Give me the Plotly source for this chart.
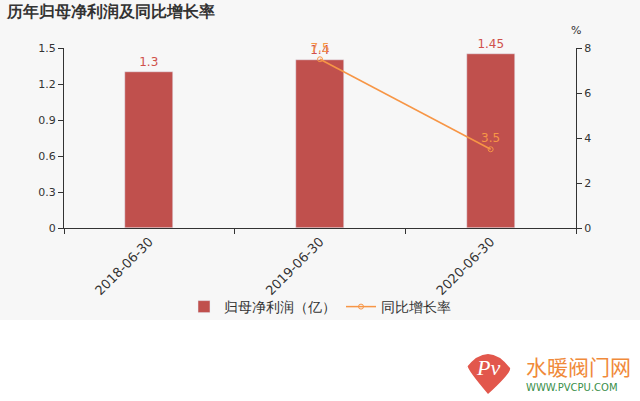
import plotly.graph_objects as go

categories = ["2018-06-30", "2019-06-30", "2020-06-30"]
profit = [1.3, 1.4, 1.45]
growth = [None, 7.5, 3.5]
profit_labels = ["1.3", "1.4", "1.45"]
growth_labels = ["", "7.5", "3.5"]

BAR = "#c0504d"
LINE = "#f79646"
FONT = "DejaVu Sans"

fig = go.Figure()
fig.add_trace(go.Bar(
    x=categories, y=profit, name="归母净利润（亿）", marker_color=BAR,
    width=0.28, text=profit_labels, textposition="outside",
    textfont=dict(color="#d0504a", size=12, family=FONT), cliponaxis=False,
))
fig.add_trace(go.Scatter(
    x=categories, y=growth, name="同比增长率", yaxis="y2",
    mode="lines+markers+text", line=dict(color=LINE, width=1.5),
    marker=dict(symbol="circle-open", size=5, color=LINE, line=dict(width=1)),
    text=growth_labels, textposition="top center",
    textfont=dict(color=LINE, size=12, family=FONT), cliponaxis=False,
))

L, R, T, B = 64, 64, 48, 173
H = 401 - T - B
W = 640 - L - R

def px_y(p):
    return (401 - B - p) / H

def px_x(p):
    return (p - L) / W

fig.update_layout(
    width=640, height=401,
    margin=dict(l=L, r=R, t=T, b=B),
    paper_bgcolor="white", plot_bgcolor="rgba(0,0,0,0)",
    font=dict(family=FONT, color="#333333", size=11),
    showlegend=True,
    bargap=0,
    legend=dict(orientation="h", x=0.5, xanchor="center", y=px_y(307), yanchor="middle",
                font=dict(size=14, color="#333333"), bgcolor="rgba(0,0,0,0)",
                itemwidth=30),
    xaxis=dict(type="category", showline=True, linecolor="#333333", ticks="outside",
               tickson="boundaries", ticklen=5, tickcolor="#333333", tickangle=-45,
               tickfont=dict(size=13, color="#333333"), showgrid=False, zeroline=False),
    yaxis=dict(range=[0, 1.5], dtick=0.3, showline=True, linecolor="#333333", ticks="outside",
               ticklen=5, tickcolor="#333333", showgrid=False, zeroline=False,
               tickfont=dict(size=11, color="#333333"), tickformat="~g"),
    yaxis2=dict(range=[0, 8], dtick=2, overlaying="y", side="right", showline=True,
                linecolor="#333333", ticks="outside", ticklen=5, tickcolor="#333333",
                showgrid=False, zeroline=False, tickfont=dict(size=11, color="#333333")),
    shapes=[
        dict(type="rect", xref="paper", yref="paper", x0=px_x(0), x1=px_x(640),
             y0=px_y(320), y1=px_y(0), fillcolor="#f7f7f7", line=dict(width=0), layer="below"),
        dict(type="path", xref="paper", yref="paper",
             path="M {0},{1} Q {2},{3} {4},{5} Q {6},{7} {8},{9} Q {10},{11} {12},{13} Q {14},{15} {0},{1} Z".format(
                 px_x(466), px_y(368), px_x(488), px_y(340), px_x(510), px_y(368),
                 px_x(512), px_y(372), px_x(488), px_y(394), px_x(466), px_y(368),
                 px_x(468), px_y(366), px_x(466), px_y(368)),
             fillcolor="#e2574c", line=dict(width=0), layer="above"),
    ],
    annotations=[
        dict(text="<b>历年归母净利润及同比增长率</b>", xref="paper", yref="paper",
             x=px_x(4), y=px_y(12), xanchor="left", yanchor="middle", showarrow=False,
             font=dict(size=15.5, color="#333333")),
        dict(text="%", xref="paper", yref="paper", x=px_x(576), y=px_y(31),
             xanchor="center", yanchor="middle", showarrow=False,
             font=dict(size=11, color="#333333")),
        dict(text="<i>Pv</i>", xref="paper", yref="paper", x=px_x(488), y=px_y(367),
             xanchor="center", yanchor="middle", showarrow=False,
             font=dict(size=22, color="white", family="Liberation Serif")),
        dict(text="水暖阀门网", xref="paper", yref="paper", x=px_x(524), y=px_y(366),
             xanchor="left", yanchor="middle", showarrow=False,
             font=dict(size=21, color="#f08a3a", family="Noto Sans CJK SC")),
        dict(text="WWW.PVCPU.COM", xref="paper", yref="paper", x=px_x(524), y=px_y(387),
             xanchor="left", yanchor="middle", showarrow=False,
             font=dict(size=10, color="#3a8f4a", family=FONT)),
    ],
)

fig.write_html("out.html", config={"displayModeBar": False},
               post_script="document.body.style.margin='0';document.body.style.padding='0';")
